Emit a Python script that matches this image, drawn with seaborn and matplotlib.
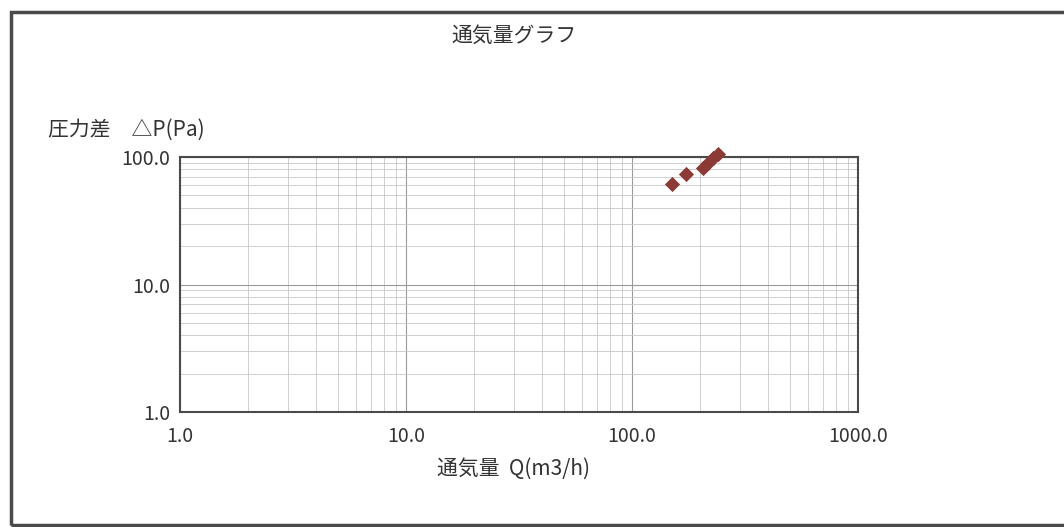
import matplotlib
matplotlib.use('Agg')
import pandas as pd
import seaborn as sns
from matplotlib import pyplot as plt
from matplotlib.patches import Rectangle
from matplotlib.ticker import FixedLocator, LogLocator, NullFormatter

# 通気量 Q (m3/h) と 圧力差 ΔP (Pa)
flow = [150, 173, 206, 217, 228, 240]
pressure = [61.4, 73.6, 82.0, 89.7, 98.2, 106.0]

x_ticks = [1, 10, 100, 1000]
x_labels = ['1.0', '10.0', '100.0', '1000.0']
y_ticks = [1, 10, 100]
y_labels = ['1.0', '10.0', '100.0']

df = pd.DataFrame({'Q': flow, 'dP': pressure})

sns.set_theme(style='white')
plt.rcParams['font.family'] = ['Noto Sans CJK JP', 'DejaVu Sans']

fig = plt.figure(figsize=(10.64, 5.27), dpi=100)
ax = fig.add_axes([0.1692, 0.2182, 0.6372, 0.4839])

sns.scatterplot(data=df, x='Q', y='dP', marker='D', s=60, color='#8c3a35',
                edgecolor='#8c3a35', linewidth=0, ax=ax, clip_on=False, zorder=5)

ax.set_xscale('log')
ax.set_yscale('log')
ax.set_xlim(1, 1000)
ax.set_ylim(1, 100)

ax.xaxis.set_major_locator(FixedLocator(x_ticks))
ax.set_xticklabels(x_labels)
ax.yaxis.set_major_locator(FixedLocator(y_ticks))
ax.set_yticklabels(y_labels)
ax.xaxis.set_minor_locator(LogLocator(base=10, subs=range(2, 10)))
ax.yaxis.set_minor_locator(LogLocator(base=10, subs=range(2, 10)))
ax.xaxis.set_minor_formatter(NullFormatter())
ax.yaxis.set_minor_formatter(NullFormatter())

ax.grid(which='major', color='#9a9a9a', linewidth=0.8)
ax.grid(which='minor', color='#c8c8c8', linewidth=0.6)
ax.tick_params(which='both', length=0, labelsize=14, colors='#333333')
ax.tick_params(axis='x', pad=10)
ax.tick_params(axis='y', pad=7)
for sp in ax.spines.values():
    sp.set_color('#4a4a4a')
    sp.set_linewidth(1.5)

ax.set_xlabel('')
ax.set_ylabel('')

# 枠と文字
fig.patches.append(Rectangle((11 / 1064, 2 / 527), 1.2, 513.5 / 527, transform=fig.transFigure,
                             fill=False, edgecolor='#4a4a4a', linewidth=2.5))
fig.text(514 / 1064, 1 - 36 / 527, '通気量グラフ', ha='center', va='center',
         fontsize=15, color='#333333')
fig.text(48 / 1064, 1 - 130 / 527, '圧力差　△P(Pa)', ha='left', va='center',
         fontsize=15, color='#333333')
fig.text(437 / 1064, 1 - 469 / 527, '通気量  Q(m3/h)', ha='left', va='center',
         fontsize=15, color='#333333')

fig.savefig('out.png', dpi=100)
